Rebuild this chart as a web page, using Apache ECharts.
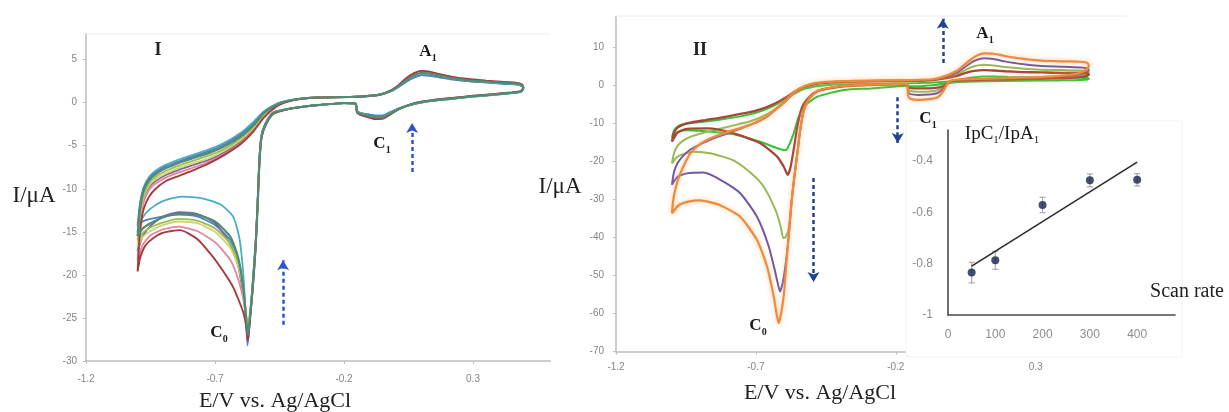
<!DOCTYPE html>
<html>
<head>
<meta charset="utf-8">
<script src="https://cdn.jsdelivr.net/npm/echarts@6/dist/echarts.min.js"></script>
<style>
  html, body { margin: 0; padding: 0; background: #ffffff; }
  #chart { width: 1229px; height: 412px; }
</style>
</head>
<body>
<div id="chart"></div>
<script>
// ---------- axis ticks ----------
const E_TICKS = [-1.2, -0.7, -0.2, 0.3];
const I1_TICKS = [5, 0, -5, -10, -15, -20, -25, -30];
const I2_TICKS = [10, 0, -10, -20, -30, -40, -50, -60, -70];
const RATE_TICKS = [0, 100, 200, 300, 400];
const RATIO_TICKS = [-0.4, -0.6, -0.8, -1];

// ---------- panel I : cyclic voltammograms (E / V, I / uA) ----------
// *_UP : branch leaving the negative vertex; *_LO : branch returning through C0
const P1_CYAN_UP = [[-1.0,-15],[-0.993,-12.5],[-0.985,-10.9],[-0.975,-9.7],[-0.955,-8.6],[-0.93,-7.9],[-0.89,-7.2],[-0.84,-6.6],[-0.78,-6.0],[-0.72,-5.4],[-0.66,-4.6],[-0.6,-3.5],[-0.55,-2.2],[-0.51,-1.0],[-0.46,-0.1],[-0.42,0.25]];
const P1_CYAN_LO = [[-0.475,-1.1],[-0.505,-2.4],[-0.52,-3.8],[-0.528,-6.5],[-0.534,-11],[-0.542,-16],[-0.554,-21],[-0.565,-25],[-0.573,-27.9],[-0.58,-25],[-0.59,-20],[-0.605,-15.8],[-0.63,-13.2],[-0.68,-11.8],[-0.75,-11.1],[-0.83,-10.9],[-0.9,-11.4],[-0.95,-12.3],[-0.98,-13.3],[-1.0,-15]];

const P1_BLUE_UP = [[-1.0,-14.3],[-0.993,-12.2],[-0.985,-10.8],[-0.975,-9.8],[-0.955,-8.8],[-0.93,-8.1],[-0.89,-7.4],[-0.84,-6.8],[-0.78,-6.2],[-0.72,-5.6],[-0.66,-4.8],[-0.6,-3.7],[-0.55,-2.4],[-0.51,-1.1],[-0.46,-0.15],[-0.42,0.2]];
const P1_BLUE_LO = [[-0.475,-1.2],[-0.505,-2.5],[-0.52,-3.9],[-0.528,-6.5],[-0.534,-11],[-0.542,-16],[-0.554,-21],[-0.565,-25.2],[-0.574,-28.2],[-0.58,-25.5],[-0.59,-22],[-0.61,-18.5],[-0.64,-16],[-0.7,-14.2],[-0.77,-13.2],[-0.84,-13],[-0.9,-13.2],[-0.95,-13.5],[-0.98,-13.8],[-1.0,-14.3]];

const P1_TEAL_UP = [[-1.0,-15.5],[-0.993,-13],[-0.985,-11.3],[-0.975,-10.1],[-0.955,-9.0],[-0.93,-8.3],[-0.89,-7.6],[-0.84,-7.0],[-0.78,-6.4],[-0.72,-5.8],[-0.66,-5.0],[-0.6,-3.9],[-0.55,-2.6],[-0.51,-1.2],[-0.46,-0.2],[-0.42,0.2]];
const P1_TEAL_LO = [[-0.475,-1.2],[-0.505,-2.6],[-0.52,-4],[-0.528,-7],[-0.534,-11.5],[-0.542,-16.5],[-0.554,-21.5],[-0.565,-25],[-0.572,-27],[-0.58,-24.8],[-0.59,-21.5],[-0.61,-18],[-0.64,-15.6],[-0.7,-13.8],[-0.77,-13],[-0.84,-12.9],[-0.9,-13.3],[-0.95,-14],[-0.98,-14.6],[-1.0,-15.5]];

const P1_GREEN_UP = [[-1.0,-16],[-0.993,-13.4],[-0.985,-11.7],[-0.975,-10.5],[-0.955,-9.3],[-0.93,-8.6],[-0.89,-7.9],[-0.84,-7.3],[-0.78,-6.7],[-0.72,-6.1],[-0.66,-5.3],[-0.6,-4.1],[-0.55,-2.8],[-0.51,-1.3],[-0.46,-0.2],[-0.42,0.2]];
const P1_GREEN_LO = [[-0.475,-1.2],[-0.505,-2.6],[-0.52,-4],[-0.528,-7],[-0.535,-12],[-0.543,-17],[-0.555,-22],[-0.566,-25.5],[-0.573,-26.8],[-0.58,-24.5],[-0.59,-21.5],[-0.61,-18.5],[-0.64,-16.4],[-0.7,-14.6],[-0.77,-13.7],[-0.84,-13.5],[-0.9,-13.9],[-0.95,-14.5],[-0.98,-15.1],[-1.0,-16]];

const P1_YELLOW_UP = [[-1.0,-16.8],[-0.993,-13.9],[-0.985,-12],[-0.975,-10.8],[-0.955,-9.6],[-0.93,-8.9],[-0.89,-8.2],[-0.84,-7.6],[-0.78,-7.0],[-0.72,-6.4],[-0.66,-5.5],[-0.6,-4.3],[-0.55,-2.9],[-0.51,-1.4],[-0.46,-0.25],[-0.42,0.2]];
const P1_YELLOW_LO = [[-0.475,-1.2],[-0.505,-2.6],[-0.52,-4],[-0.528,-7],[-0.535,-12],[-0.543,-17],[-0.555,-22],[-0.566,-25.3],[-0.573,-26.5],[-0.58,-24.4],[-0.59,-21.8],[-0.61,-19],[-0.64,-16.9],[-0.7,-15],[-0.77,-14],[-0.84,-13.8],[-0.9,-14.2],[-0.95,-14.9],[-0.98,-15.6],[-1.0,-16.8]];

const P1_PURPLE_UP = [[-1.0,-17.3],[-0.993,-14.3],[-0.985,-12.3],[-0.975,-11.0],[-0.955,-9.8],[-0.93,-9.1],[-0.89,-8.4],[-0.84,-7.8],[-0.78,-7.2],[-0.72,-6.6],[-0.66,-5.7],[-0.6,-4.5],[-0.55,-3.0],[-0.51,-1.5],[-0.46,-0.3],[-0.42,0.15]];
const P1_PURPLE_LO = [[-0.475,-1.2],[-0.505,-2.5],[-0.52,-3.9],[-0.528,-6.8],[-0.535,-11.5],[-0.543,-16.5],[-0.555,-21.5],[-0.566,-25.5],[-0.573,-27.3],[-0.58,-25],[-0.59,-22.5],[-0.61,-19],[-0.64,-16.5],[-0.7,-14],[-0.77,-12.9],[-0.84,-12.7],[-0.9,-13.2],[-0.95,-14.3],[-0.98,-15.5],[-1.0,-17.3]];

const P1_PINK_UP = [[-1.0,-18.3],[-0.993,-15],[-0.985,-12.8],[-0.975,-11.4],[-0.955,-10.1],[-0.93,-9.4],[-0.89,-8.7],[-0.84,-8.1],[-0.78,-7.5],[-0.72,-6.8],[-0.66,-5.9],[-0.6,-4.7],[-0.55,-3.2],[-0.51,-1.6],[-0.46,-0.35],[-0.42,0.15]];
const P1_PINK_LO = [[-0.475,-1.3],[-0.505,-2.7],[-0.52,-4.1],[-0.528,-7],[-0.535,-12],[-0.543,-17],[-0.555,-21.8],[-0.566,-24.8],[-0.573,-26],[-0.58,-24.5],[-0.59,-22.8],[-0.61,-20.5],[-0.64,-18.3],[-0.7,-16.2],[-0.77,-14.9],[-0.84,-14.4],[-0.9,-14.7],[-0.95,-15.4],[-0.98,-16.5],[-1.0,-18.3]];

const P1_MAROON_UP = [[-1.0,-19.6],[-0.993,-16],[-0.985,-13.6],[-0.975,-12.2],[-0.955,-10.9],[-0.93,-10],[-0.89,-9.1],[-0.84,-8.5],[-0.78,-7.8],[-0.72,-7.0],[-0.66,-6.0],[-0.6,-4.8],[-0.55,-3.3],[-0.51,-1.7],[-0.46,-0.4],[-0.42,0.1]];
const P1_MAROON_LO = [[-0.475,-1.3],[-0.505,-2.7],[-0.52,-4.1],[-0.528,-7],[-0.535,-12],[-0.543,-17],[-0.555,-22],[-0.565,-25.5],[-0.572,-27.6],[-0.58,-25.8],[-0.59,-24.4],[-0.61,-22.8],[-0.63,-21.4],[-0.67,-19.5],[-0.708,-17.9],[-0.77,-15.8],[-0.836,-14.8],[-0.9,-15.1],[-0.94,-15.75],[-0.97,-16.6],[-0.99,-18],[-1.0,-19.6]];

// shared A1 / C1 region of panel I (three peak heights)
const P1_LOOP_HI = [[-0.37,0.45],[-0.3,0.6],[-0.2,0.65],[-0.12,0.75],[-0.06,0.95],[-0.02,1.4],[0.01,2.0],[0.04,2.8],[0.07,3.4],[0.1,3.7],[0.13,3.6],[0.17,3.3],[0.22,3.0],[0.28,2.75],[0.35,2.55],[0.42,2.4],[0.47,2.3],[0.49,2.1],[0.495,1.75],[0.485,1.35],[0.45,1.2],[0.38,1.0],[0.3,0.8],[0.22,0.55],[0.14,0.3],[0.08,0.0],[0.04,-0.4],[0.01,-0.8],[-0.02,-1.35],[-0.05,-1.85],[-0.08,-1.9],[-0.11,-1.65],[-0.14,-1.35],[-0.15,-1.1],[-0.155,-0.1],[-0.2,-0.05],[-0.27,-0.2],[-0.34,-0.4],[-0.41,-0.7]];
const P1_LOOP_MID = [[-0.37,0.45],[-0.3,0.6],[-0.2,0.65],[-0.12,0.75],[-0.06,0.95],[-0.02,1.35],[0.01,1.9],[0.04,2.6],[0.07,3.15],[0.1,3.45],[0.13,3.4],[0.17,3.15],[0.22,2.85],[0.28,2.6],[0.35,2.45],[0.42,2.3],[0.47,2.2],[0.49,2.0],[0.495,1.7],[0.485,1.3],[0.45,1.15],[0.38,0.95],[0.3,0.75],[0.22,0.5],[0.14,0.25],[0.08,-0.05],[0.04,-0.4],[0.01,-0.75],[-0.02,-1.25],[-0.05,-1.7],[-0.08,-1.7],[-0.11,-1.5],[-0.14,-1.25],[-0.15,-1.0],[-0.155,-0.1],[-0.2,-0.05],[-0.27,-0.2],[-0.34,-0.4],[-0.41,-0.7]];
const P1_LOOP_LO = [[-0.37,0.45],[-0.3,0.6],[-0.2,0.65],[-0.12,0.72],[-0.06,0.9],[-0.02,1.3],[0.01,1.8],[0.04,2.4],[0.07,2.9],[0.1,3.2],[0.13,3.15],[0.17,2.95],[0.22,2.7],[0.28,2.5],[0.35,2.35],[0.42,2.2],[0.47,2.1],[0.49,1.9],[0.495,1.6],[0.485,1.25],[0.45,1.1],[0.38,0.9],[0.3,0.7],[0.22,0.45],[0.14,0.2],[0.08,-0.1],[0.04,-0.4],[0.01,-0.7],[-0.02,-1.1],[-0.05,-1.5],[-0.08,-1.5],[-0.11,-1.35],[-0.14,-1.15],[-0.15,-0.95],[-0.155,-0.1],[-0.2,-0.05],[-0.27,-0.2],[-0.34,-0.4],[-0.41,-0.7]];

// ---------- panel II : cyclic voltammograms ----------
const P2_ORANGE_UP = [[-1.0,-33.7],[-0.995,-30],[-0.985,-26.5],[-0.97,-23.2],[-0.95,-20],[-0.935,-18],[-0.905,-15.8],[-0.875,-14.4],[-0.84,-13.3],[-0.8,-12.3],[-0.75,-11.2],[-0.7,-9.8],[-0.66,-8.2],[-0.63,-6.4],[-0.6,-4.5],[-0.565,-2.0],[-0.53,-0.4],[-0.49,0.5],[-0.43,0.9]];
const P2_ORANGE_LOOP = [[-0.35,1.1],[-0.25,1.2],[-0.15,1.3],[-0.07,1.5],[-0.03,2.2],[0.02,3.8],[0.05,5.6],[0.08,7.3],[0.115,8.3],[0.15,8.2],[0.19,7.6],[0.25,6.9],[0.32,6.4],[0.4,6.2],[0.46,6.1],[0.485,5.8],[0.49,5.0],[0.48,4.0],[0.45,3.0],[0.38,2.4],[0.28,2.0],[0.15,1.7],[0.05,1.5],[0.0,1.2],[-0.015,0.4],[-0.03,-1.6],[-0.05,-3.2],[-0.08,-3.7],[-0.12,-3.9],[-0.148,-3.6],[-0.156,-2.8],[-0.16,0.3],[-0.22,0.25],[-0.3,0.1],[-0.38,-0.2]];
const P2_ORANGE_LO = [[-0.44,-0.8],[-0.48,-1.6],[-0.51,-3.6],[-0.53,-7],[-0.542,-12],[-0.552,-18],[-0.564,-25],[-0.573,-31],[-0.582,-39],[-0.59,-46],[-0.6,-55],[-0.61,-60],[-0.618,-62.5],[-0.625,-60.5],[-0.636,-55.6],[-0.66,-47.7],[-0.696,-40.7],[-0.756,-34.6],[-0.83,-31.5],[-0.9,-30.3],[-0.94,-30.6],[-0.975,-31.5],[-1.0,-33.7]];

const P2_PURPLE_UP = [[-1.0,-26.2],[-0.993,-23],[-0.98,-20.5],[-0.96,-18.6],[-0.935,-17],[-0.91,-16],[-0.87,-14.6],[-0.82,-13.2],[-0.76,-11.6],[-0.7,-9.9],[-0.66,-8.3],[-0.63,-6.5],[-0.6,-4.6],[-0.565,-2.1],[-0.53,-0.5],[-0.49,0.4],[-0.43,0.8]];
const P2_PURPLE_LOOP = [[-0.35,1.0],[-0.25,1.1],[-0.15,1.2],[-0.07,1.4],[-0.03,2.0],[0.02,3.3],[0.05,4.9],[0.08,6.3],[0.115,7.0],[0.15,6.8],[0.19,6.2],[0.25,5.5],[0.32,5.0],[0.4,4.8],[0.46,4.6],[0.485,4.4],[0.49,3.8],[0.47,3.0],[0.42,2.4],[0.33,2.0],[0.2,1.7],[0.08,1.5],[0.0,1.2],[-0.015,0.4],[-0.03,-1.0],[-0.05,-2.1],[-0.08,-2.5],[-0.12,-2.6],[-0.148,-2.4],[-0.156,-1.8],[-0.16,0.25],[-0.22,0.25],[-0.3,0.1],[-0.38,-0.2]];
const P2_PURPLE_LO = [[-0.44,-0.8],[-0.48,-1.6],[-0.51,-3.6],[-0.53,-7],[-0.542,-12],[-0.552,-18],[-0.564,-25],[-0.573,-31],[-0.582,-39],[-0.592,-46],[-0.603,-51.5],[-0.614,-54.2],[-0.622,-52],[-0.63,-49.4],[-0.654,-42.4],[-0.696,-34.6],[-0.756,-28.4],[-0.827,-24.9],[-0.887,-23],[-0.947,-23.2],[-0.98,-24.1],[-1.0,-26.2]];

const P2_OLIVE_UP = [[-1.0,-20.6],[-0.993,-18],[-0.98,-16],[-0.96,-14.6],[-0.93,-13.5],[-0.89,-12.6],[-0.84,-11.7],[-0.78,-10.6],[-0.72,-9.5],[-0.68,-8.4],[-0.64,-6.8],[-0.6,-4.7],[-0.565,-2.2],[-0.53,-0.6],[-0.49,0.3],[-0.43,0.7]];
const P2_OLIVE_LOOP = [[-0.35,0.9],[-0.25,1.0],[-0.15,1.1],[-0.07,1.3],[-0.03,1.8],[0.02,2.8],[0.05,4.0],[0.08,4.9],[0.115,5.3],[0.15,5.1],[0.19,4.7],[0.25,4.3],[0.32,4.0],[0.4,3.9],[0.46,3.8],[0.485,3.6],[0.49,3.1],[0.47,2.5],[0.42,2.1],[0.33,1.8],[0.2,1.6],[0.08,1.4],[0.0,1.1],[-0.015,0.4],[-0.03,-0.6],[-0.05,-1.4],[-0.08,-1.7],[-0.12,-1.75],[-0.148,-1.6],[-0.156,-1.1],[-0.16,0.15],[-0.22,0.15],[-0.3,0.0],[-0.38,-0.3]];
const P2_OLIVE_LO = [[-0.44,-0.9],[-0.48,-1.7],[-0.51,-3.7],[-0.53,-7],[-0.542,-12],[-0.552,-18],[-0.564,-25],[-0.573,-31],[-0.582,-37.5],[-0.593,-39.8],[-0.602,-40.2],[-0.612,-37],[-0.63,-32.8],[-0.672,-26.7],[-0.72,-23],[-0.78,-19.8],[-0.863,-17.9],[-0.923,-17.5],[-0.98,-18.8],[-1.0,-20.6]];

const P2_MAROON_UP = [[-1.0,-14.9],[-0.993,-12.6],[-0.98,-11.2],[-0.96,-10.4],[-0.93,-9.8],[-0.88,-9.2],[-0.82,-8.5],[-0.74,-7.4],[-0.684,-6.4],[-0.63,-4.8],[-0.589,-3.1],[-0.541,-0.9],[-0.49,0.2],[-0.43,0.7]];
const P2_MAROON_LOOP = [[-0.35,0.9],[-0.25,1.0],[-0.15,1.1],[-0.07,1.3],[-0.03,1.7],[0.02,2.4],[0.05,3.2],[0.08,3.7],[0.115,3.9],[0.15,3.8],[0.19,3.6],[0.25,3.4],[0.32,3.3],[0.4,3.2],[0.46,3.2],[0.485,3.1],[0.49,2.7],[0.47,2.2],[0.42,1.9],[0.33,1.7],[0.2,1.5],[0.08,1.3],[0.0,1.0],[-0.015,0.4],[-0.03,-0.3],[-0.05,-0.7],[-0.08,-0.9],[-0.12,-0.9],[-0.148,-0.8],[-0.156,-0.5],[-0.16,0.1],[-0.22,0.15],[-0.3,0.0],[-0.38,-0.3]];
const P2_MAROON_LO = [[-0.44,-0.9],[-0.48,-1.6],[-0.51,-3.2],[-0.535,-5.8],[-0.552,-11],[-0.565,-17],[-0.576,-21.5],[-0.586,-23.6],[-0.6,-21.5],[-0.624,-18.8],[-0.684,-15.3],[-0.78,-12.7],[-0.87,-11.4],[-0.947,-11.5],[-0.98,-12.5],[-1.0,-14.9]];

const P2_GREEN_UP = [[-1.0,-13.8],[-0.993,-12],[-0.98,-10.9],[-0.96,-10.3],[-0.93,-10],[-0.88,-9.6],[-0.82,-9.0],[-0.76,-8.3],[-0.7,-7.3],[-0.64,-5.6],[-0.6,-4.0],[-0.56,-2.2],[-0.52,-0.9],[-0.47,-0.2],[-0.4,0.2]];
const P2_GREEN_LOOP = [[-0.32,0.3],[-0.22,0.4],[-0.12,0.5],[-0.05,0.7],[0.0,1.0],[0.04,1.6],[0.08,2.0],[0.115,2.2],[0.15,2.2],[0.2,2.1],[0.28,2.0],[0.36,1.95],[0.44,1.9],[0.485,1.9],[0.49,1.6],[0.46,1.3],[0.38,1.2],[0.25,1.1],[0.12,1.0],[0.02,0.8],[-0.03,0.3],[-0.07,-0.1],[-0.11,-0.3],[-0.15,-0.3],[-0.16,-0.2],[-0.2,-0.4],[-0.29,-0.9],[-0.385,-1.3]];
const P2_GREEN_LO = [[-0.481,-3.1],[-0.53,-5.8],[-0.548,-8.5],[-0.565,-12.7],[-0.583,-16],[-0.594,-17.1],[-0.624,-16.6],[-0.684,-14.9],[-0.768,-13.1],[-0.86,-12.3],[-0.947,-11.9],[-0.98,-12.4],[-1.0,-13.8]];

// ---------- inset : peak current ratio vs scan rate ----------
const RATE = [50, 100, 200, 300, 400];
const RATIO = [-0.835, -0.787, -0.572, -0.476, -0.474];
const RATIO_ERR = [0.04, 0.035, 0.03, 0.025, 0.024];
const TREND = [[50, -0.81], [400, -0.405]];

// ---------- styling helpers ----------
const SERIF = "'Liberation Serif','DejaVu Serif',serif";
const SANS = "'Liberation Sans','DejaVu Sans',sans-serif";
const AXIS_GRAY = '#bdbdbd';

function cv(data, color, width, xi, extra) {
  return Object.assign({
    type: 'line', data: data, xAxisIndex: xi, yAxisIndex: xi,
    symbol: 'none', showSymbol: false, smooth: 0.2, silent: true,
    lineStyle: { color: color, width: width }, itemStyle: { color: color },
    emphasis: { disabled: true }, z: 2
  }, extra || {});
}

function arrows(list, color) {
  return {
    silent: true, animation: false, symbol: ['none', 'arrow'], symbolSize: [9, 10],
    label: { show: false },
    lineStyle: { type: [4, 3], width: 2.5, color: color },
    data: list.map(a => [{ coord: a[0] }, { coord: a[1] }])
  };
}

function tickFmt(list, digits) {
  return function (v) {
    for (const t of list) if (Math.abs(t - v) < 1e-6) return digits ? t.toFixed(digits) : String(t);
    return '';
  };
}

function valueAxis(grid, min, max, interval, ticks, digits, margin, extra) {
  return Object.assign({
    type: 'value', gridIndex: grid, min: min, max: max, interval: interval,
    axisLine: { show: true, onZero: false, lineStyle: { color: AXIS_GRAY, width: 1.5 } },
    axisTick: { show: true, length: 3, lineStyle: { color: AXIS_GRAY } },
    splitLine: { show: false },
    axisLabel: { showMaxLabel: false, margin: margin, color: '#858585', fontSize: 10, fontFamily: SANS,
                 formatter: tickFmt(ticks, digits) }
  }, extra || {});
}

// labels with subscripts
function tag(x, y, main, sub, size, weight, z) {
  const parts = [];
  for (let i = 0; i < main.length; i++) {
    parts.push('{m|' + main[i] + '}');
    if (sub[i]) parts.push('{s|' + sub[i] + '}');
  }
  return {
    type: 'text', x: x, y: y, z: z || 30,
    style: {
      text: parts.join(''), align: 'center', verticalAlign: 'middle',
      textAlign: 'center', textVerticalAlign: 'middle',
      rich: {
        m: { fontFamily: SERIF, fontSize: size, fontWeight: weight, color: '#1a1a1a', fill: '#1a1a1a', lineHeight: size + 5, verticalAlign: 'middle' },
        s: { fontFamily: SERIF, fontSize: Math.round(size * 0.6), fontWeight: weight, color: '#1a1a1a', fill: '#1a1a1a', lineHeight: 8, verticalAlign: 'bottom' }
      }
    }
  };
}
function plain(x, y, text, size, weight) {
  return {
    type: 'text', x: x, y: y, z: 30,
    style: { text: text, font: (weight || 'normal') + ' ' + size + 'px ' + SERIF, fill: '#222',
             align: 'center', verticalAlign: 'middle', textAlign: 'center', textVerticalAlign: 'middle' }
  };
}

const chart = echarts.init(document.getElementById('chart'), null, { renderer: 'canvas' });

const series = [
  // panel I
  cv([...P1_CYAN_UP, ...P1_LOOP_LO, ...P1_CYAN_LO], '#4BACC6', 1.8, 0),
  cv([...P1_BLUE_UP, ...P1_LOOP_LO, ...P1_BLUE_LO], '#4F81BD', 1.8, 0),
  cv([...P1_PURPLE_UP, ...P1_LOOP_MID, ...P1_PURPLE_LO], '#7E62A1', 1.8, 0),
  cv([...P1_PINK_UP, ...P1_LOOP_HI, ...P1_PINK_LO], '#E3849E', 1.8, 0),
  cv([...P1_YELLOW_UP, ...P1_LOOP_MID, ...P1_YELLOW_LO], '#CFD66A', 1.8, 0),
  cv([...P1_GREEN_UP, ...P1_LOOP_MID, ...P1_GREEN_LO], '#9BBB59', 1.8, 0),
  cv([...P1_MAROON_UP, ...P1_LOOP_HI, ...P1_MAROON_LO], '#A33C3A', 1.9, 0),
  cv([...P1_TEAL_UP, ...P1_LOOP_MID, ...P1_TEAL_LO], '#4E8C76', 2.2, 0, {
    markLine: arrows([[[-0.436, -25.8], [-0.436, -18.3]], [[0.064, -8.05], [0.064, -2.35]]], '#2F54C9')
  }),
  // panel II
  cv([...P2_GREEN_UP, ...P2_GREEN_LOOP, ...P2_GREEN_LO], '#35C335', 2, 1),
  cv([...P2_OLIVE_UP, ...P2_OLIVE_LOOP, ...P2_OLIVE_LO], '#98B954', 2, 1),
  cv([...P2_PURPLE_UP, ...P2_PURPLE_LOOP, ...P2_PURPLE_LO], '#7457A3', 2, 1),
  cv([...P2_MAROON_UP, ...P2_MAROON_LOOP, ...P2_MAROON_LO], '#A84539', 2.3, 1),
  cv([...P2_ORANGE_UP, ...P2_ORANGE_LOOP, ...P2_ORANGE_LO], '#EE8a3C', 2.2, 1, {
    lineStyle: { color: '#EE8A3C', width: 2.2, shadowBlur: 5, shadowColor: 'rgba(247,170,100,0.7)' },
    markLine: arrows([[[-0.494, -24.4], [-0.494, -51.7]], [[-0.193, -3.2], [-0.193, -15.2]], [[-0.032, 5.8], [-0.032, 17.4]]], '#22438F')
  }),
  // inset
  {
    type: 'custom', xAxisIndex: 2, yAxisIndex: 2, z: 12, silent: true,
    data: RATE.map((r, i) => [r, RATIO[i], RATIO_ERR[i]]),
    renderItem: function (params, api) {
      const x = api.value(0), y = api.value(1), e = api.value(2);
      const hi = api.coord([x, y + e]), lo = api.coord([x, y - e]);
      const st = { stroke: '#a2a9b8', lineWidth: 1.2 };
      return { type: 'group', children: [
        { type: 'line', shape: { x1: hi[0], y1: hi[1], x2: lo[0], y2: lo[1] }, style: st },
        { type: 'line', shape: { x1: hi[0] - 3, y1: hi[1], x2: hi[0] + 3, y2: hi[1] }, style: st },
        { type: 'line', shape: { x1: lo[0] - 3, y1: lo[1], x2: lo[0] + 3, y2: lo[1] }, style: st }
      ]};
    }
  },
  {
    type: 'line', xAxisIndex: 2, yAxisIndex: 2, z: 13, silent: true, data: TREND,
    symbol: 'none', lineStyle: { color: '#2b2b2b', width: 1.6 }
  },
  {
    type: 'scatter', xAxisIndex: 2, yAxisIndex: 2, z: 14, silent: true,
    data: RATE.map((r, i) => [r, RATIO[i]]),
    symbolSize: 8, itemStyle: { color: '#17234d' }
  }
];

const insetAxisLine = { show: true, onZero: false, lineStyle: { color: '#4a4a4a', width: 1.6 } };

const option = {
  animation: false,
  backgroundColor: '#ffffff',
  grid: [
    { left: 86, right: 678.6, top: 33.8, bottom: 51, containLabel: false },
    { left: 616, right: 101, top: 16.4, bottom: 60.3, containLabel: false },
    { left: 948, right: 54, top: 130, bottom: 97, containLabel: false, z: 10 }
  ],
  xAxis: [
    valueAxis(0, -1.2, 0.6, 0.5, E_TICKS, 1, 13),
    valueAxis(1, -1.2, 0.63, 0.5, E_TICKS, 1, 11),
    {
      type: 'value', gridIndex: 2, min: 0, max: 480, interval: 100, z: 10,
      axisLine: insetAxisLine, axisTick: { show: false }, splitLine: { show: false },
      axisLabel: { showMaxLabel: false, margin: 14, color: '#8c8c8c', fontSize: 12, fontFamily: SANS, formatter: tickFmt(RATE_TICKS, 0) }
    }
  ],
  yAxis: [
    valueAxis(0, -30, 8, 5, I1_TICKS, 0, 9),
    valueAxis(1, -70, 18, 10, I2_TICKS, 0, 12),
    {
      type: 'value', gridIndex: 2, min: -1, max: -0.28, interval: 0.2, z: 10,
      axisLine: insetAxisLine, axisTick: { show: false }, splitLine: { show: false },
      axisLabel: { showMaxLabel: false, margin: 15, color: '#8c8c8c', fontSize: 12, fontFamily: SANS,
                   formatter: function (v) { for (const t of RATIO_TICKS) if (Math.abs(t - v) < 1e-6) return String(t); return ''; } }
    }
  ],
  graphic: { elements: [
    // faint plot-area top edges
    { type: 'line', z: 1, shape: { x1: 86, y1: 34, x2: 550, y2: 34 }, style: { stroke: '#ececec', lineWidth: 1 } },
    { type: 'line', z: 1, shape: { x1: 616, y1: 16, x2: 1127, y2: 16 }, style: { stroke: '#ececec', lineWidth: 1 } },
    // inset panel background
    { type: 'rect', z: 5, shape: { x: 906, y: 121, width: 276, height: 236 }, style: { fill: '#ffffff', stroke: '#f3f3f3', lineWidth: 1 } },
    // panel I annotations
    plain(158, 50, 'I', 18, 'bold'),
    tag(428, 52, 'A', ['1'], 17, 'bold'),
    tag(382, 144, 'C', ['1'], 17, 'bold'),
    tag(219, 333, 'C', ['0'], 17, 'bold'),
    plain(34, 196, 'I/μA', 23),
    plain(275, 401, 'E/V vs. Ag/AgCl', 22),
    // panel II annotations
    plain(700, 50, 'II', 18, 'bold'),
    tag(985, 34, 'A', ['1'], 17, 'bold'),
    tag(928, 119, 'C', ['1'], 17, 'bold'),
    tag(758, 326, 'C', ['0'], 17, 'bold'),
    plain(560, 187, 'I/μA', 23),
    plain(820, 393, 'E/V vs. Ag/AgCl', 22),
    // inset titles
    tag(1002, 134, ['I', 'p', 'C', '/', 'I', 'p', 'A'], ['', '', '1', '', '', '', '1'], 19, 'normal'),
    plain(1187, 292, 'Scan rate', 20)
  ]},
  series: series
};

chart.setOption(option);
</script>
</body>
</html>
